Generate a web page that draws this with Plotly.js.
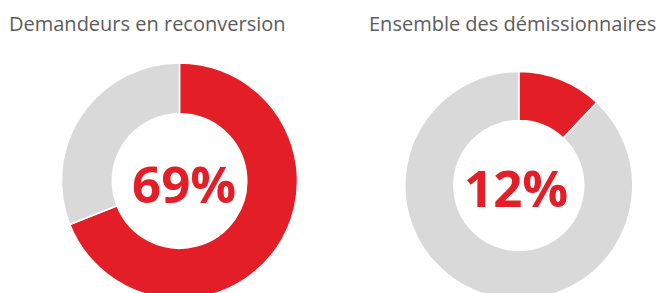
<!DOCTYPE html>
<html><head><meta charset="utf-8">
<script src="https://cdn.plot.ly/plotly-3.0.1.min.js"></script>
<style>html,body{margin:0;padding:0;overflow:hidden;background:#fff;}#chart{width:661px;height:340px;}</style>
</head><body><div id="chart"></div>
<script>
const titles = ["Demandeurs en reconversion", "Ensemble des démissionnaires"];
const sliceLabels = ["Oui", "Non"];
const shareLeft = [69, 31];
const shareRight = [12, 88];
const centerLabels = ["69%", "12%"];
const colors = ["#E31E26", "#D9D9D9"];

const W = 661, H = 340;
function px(x){return x/W;}
function py(yTop){return (H - yTop)/H;}

const common = {type:'pie', labels: sliceLabels, sort:false, direction:'clockwise', rotation:0,
  hole:0.57, textinfo:'none', hoverinfo:'label+percent', showlegend:false,
  marker:{colors: colors, line:{color:'#ffffff', width:1.5}}};

const data = [
  Object.assign({}, common, {values: shareLeft,
    domain:{x:[px(61.5), px(297.5)], y:[py(299), py(63)]}}),
  Object.assign({}, common, {values: shareRight,
    domain:{x:[px(404.8), px(632.8)], y:[py(299.5), py(71.5)]}})
];

const ann = [
  {text: titles[0], x: px(7), y: py(24), xanchor:'left', yanchor:'middle'},
  {text: titles[1], x: px(658), y: py(24), xanchor:'right', yanchor:'middle'}
].map(a => Object.assign(a, {xref:'paper', yref:'paper', showarrow:false,
  font:{family:'Open Sans', size:20, color:'#5c5c5c'}}));

ann.push({text: centerLabels[0], x: px(184), y: py(183), xref:'paper', yref:'paper', showarrow:false,
  xanchor:'center', yanchor:'middle', font:{family:'Open Sans', size:51, color:'#E31E26', weight:700}});
ann.push({text: centerLabels[1], x: px(516), y: py(187), xref:'paper', yref:'paper', showarrow:false,
  xanchor:'center', yanchor:'middle', font:{family:'Open Sans', size:51, color:'#E31E26', weight:700}});

Plotly.newPlot('chart', data, {width:W, height:H, margin:{l:0,r:0,t:0,b:0},
  paper_bgcolor:'#fff', annotations: ann}, {displayModeBar:false, staticPlot:true});
</script></body></html>
